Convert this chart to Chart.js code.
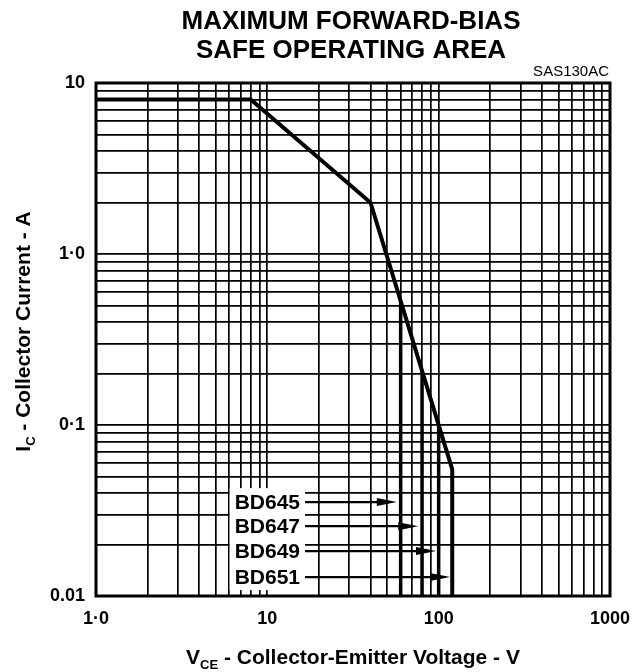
<!DOCTYPE html>
<html>
<head>
<meta charset="utf-8">
<script src="https://cdn.jsdelivr.net/npm/chart.js@4.4.0/dist/chart.umd.min.js"></script>
<style>
  html, body { margin: 0; padding: 0; background: #fff; }
  #wrap { width: 634px; height: 672px; }
</style>
</head>
<body>
<div id="wrap"><canvas id="soa"></canvas></div>
<script>
// safe operating area boundary (VCE in V, IC in A)
const soaVce = [1, 8, 40, 120, 120];
const soaIc = [8, 8, 2, 0.055, 0.01];

// voltage limits of the lower-rated devices
const devices = ['BD645', 'BD647', 'BD649', 'BD651'];
const deviceVce = [60, 80, 100, 120];
const deviceTopIc = [0.53, 0.21, 0.1, 0.055];

// labels and arrows pointing at each device limit
const labelVce = 10;
const labelIc = [0.0354, 0.0256, 0.0183, 0.0129];
const arrowTailVce = 16.6;
const arrowTipVce = [57, 76, 96.5, 116.5];

const xTickValues = [1, 10, 100, 1000];
const xTickLabels = ['1·0', '10', '100', '1000'];
const yTickValues = [0.01, 0.1, 1, 10];
const yTickLabels = ['0.01', '0·1', '1·0', '10'];

const title = ['MAXIMUM FORWARD-BIAS', 'SAFE OPERATING AREA'];
const figId = 'SAS130AC';

const FONT = '"Liberation Sans", Arial, sans-serif';

function logGrid(min, max) {
    const out = [];
    for (let d = min; d < max; d *= 10) {
        for (let m = 1; m < 10; m++) out.push(+(d * m).toPrecision(3));
    }
    out.push(max);
    return out;
}

const curve = soaVce.map((v, i) => ({ x: v, y: soaIc[i] }));
const deviceSets = deviceVce.slice(0, 3).map((v, i) => ({
    label: devices[i],
    data: [{ x: v, y: deviceTopIc[i] }, { x: v, y: 0.01 }],
    borderColor: '#000',
    borderWidth: 3.5,
    pointRadius: 0,
    tension: 0
}));

const extras = {
    id: 'extras',
    afterDraw(chart) {
        const ctx = chart.ctx;
        const a = chart.chartArea;
        const xs = chart.scales.x, ys = chart.scales.y;
        const cx = (a.left + a.right) / 2;
        ctx.save();
        ctx.fillStyle = '#000';
        ctx.strokeStyle = '#000';

        // plot frame
        ctx.lineWidth = 3;
        ctx.strokeRect(a.left, a.top, a.right - a.left, a.bottom - a.top);

        // titles
        ctx.textAlign = 'center';
        ctx.textBaseline = 'alphabetic';
        ctx.font = 'bold 26px ' + FONT;
        ctx.fillText(title[0], cx - 2, 29);
        ctx.fillText(title[1], cx - 2, 58);
        ctx.textAlign = 'right';
        ctx.font = '15px ' + FONT;
        ctx.fillText(figId, a.right - 1, 76);

        // x axis title with subscript
        const xParts = [['V', 'bold 21px ', 0], ['CE', 'bold 13px ', 5], [' - Collector-Emitter Voltage - V', 'bold 21px ', 0]];
        drawParts(ctx, xParts, cx, 664);

        // y axis title, rotated
        ctx.save();
        ctx.translate(30, (a.top + a.bottom) / 2 - 8);
        ctx.rotate(-Math.PI / 2);
        const yParts = [['I', 'bold 21px ', 0], ['C', 'bold 13px ', 5], [' - Collector Current - A', 'bold 21px ', 0]];
        drawParts(ctx, yParts, 0, 0);
        ctx.restore();

        // device labels on a white patch
        ctx.font = 'bold 21px ' + FONT;
        const lx = xs.getPixelForValue(labelVce);
        const tw = ctx.measureText(devices[0]).width;
        const yFirst = ys.getPixelForValue(labelIc[0]);
        const yLast = ys.getPixelForValue(labelIc[labelIc.length - 1]);
        ctx.fillStyle = '#fff';
        ctx.fillRect(lx - tw / 2 - 5, yFirst - 14, tw + 10, yLast - yFirst + 27);
        ctx.fillStyle = '#000';
        ctx.textAlign = 'center';
        ctx.textBaseline = 'middle';
        const tail = xs.getPixelForValue(arrowTailVce);
        devices.forEach((d, i) => {
            const y = ys.getPixelForValue(labelIc[i]);
            ctx.fillText(d, lx, y + 1);
            const tip = xs.getPixelForValue(arrowTipVce[i]);
            ctx.lineWidth = 2.2;
            ctx.beginPath();
            ctx.moveTo(tail, y);
            ctx.lineTo(tip - 8, y);
            ctx.stroke();
            ctx.beginPath();
            ctx.moveTo(tip, y);
            ctx.lineTo(tip - 20, y - 4);
            ctx.lineTo(tip - 20, y + 4);
            ctx.closePath();
            ctx.fill();
        });
        ctx.restore();
    }
};

function drawParts(ctx, parts, cx, baseline) {
    let total = 0;
    parts.forEach(p => { ctx.font = p[1] + FONT; total += ctx.measureText(p[0]).width; });
    let x = cx - total / 2;
    ctx.textAlign = 'left';
    ctx.textBaseline = 'alphabetic';
    parts.forEach(p => {
        ctx.font = p[1] + FONT;
        ctx.fillText(p[0], x, baseline + p[2]);
        x += ctx.measureText(p[0]).width;
    });
}

new Chart(document.getElementById('soa'), {
    type: 'line',
    data: {
        datasets: [
            {
                label: 'SOA',
                data: curve,
                borderColor: '#000',
                borderWidth: 4,
                pointRadius: 0,
                tension: 0
            },
            ...deviceSets
        ]
    },
    options: {
        responsive: true,
        maintainAspectRatio: false,
        animation: false,
        layout: { padding: { left: 0, top: 83, right: 24, bottom: 0 } },
        plugins: {
            legend: { display: false },
            tooltip: { enabled: false }
        },
        scales: {
            x: {
                type: 'logarithmic',
                min: 1,
                max: 1000,
                afterBuildTicks: s => { s.ticks = logGrid(1, 1000).map(v => ({ value: v })); },
                afterFit: s => { s.height = 76; s.paddingLeft = 0; s.paddingRight = 0; },
                grid: { color: '#000', lineWidth: 1.7, drawTicks: false },
                border: { display: false },
                ticks: {
                    autoSkip: false,
                    maxRotation: 0,
                    padding: 12,
                    color: '#000',
                    font: { family: FONT, size: 18, weight: 'bold' },
                    callback: v => {
                        const i = xTickValues.indexOf(v);
                        return i >= 0 ? xTickLabels[i] : '';
                    }
                }
            },
            y: {
                type: 'logarithmic',
                min: 0.01,
                max: 10,
                afterBuildTicks: s => { s.ticks = logGrid(0.01, 10).map(v => ({ value: v })); },
                afterFit: s => { s.width = 96; s.paddingTop = 0; s.paddingBottom = 0; },
                grid: { color: '#000', lineWidth: 1.7, drawTicks: false },
                border: { display: false },
                ticks: {
                    autoSkip: false,
                    padding: 11,
                    color: '#000',
                    font: { family: FONT, size: 18, weight: 'bold' },
                    callback: v => {
                        const i = yTickValues.indexOf(v);
                        return i >= 0 ? yTickLabels[i] : '';
                    }
                }
            }
        }
    },
    plugins: [extras]
});
</script>
</body>
</html>
